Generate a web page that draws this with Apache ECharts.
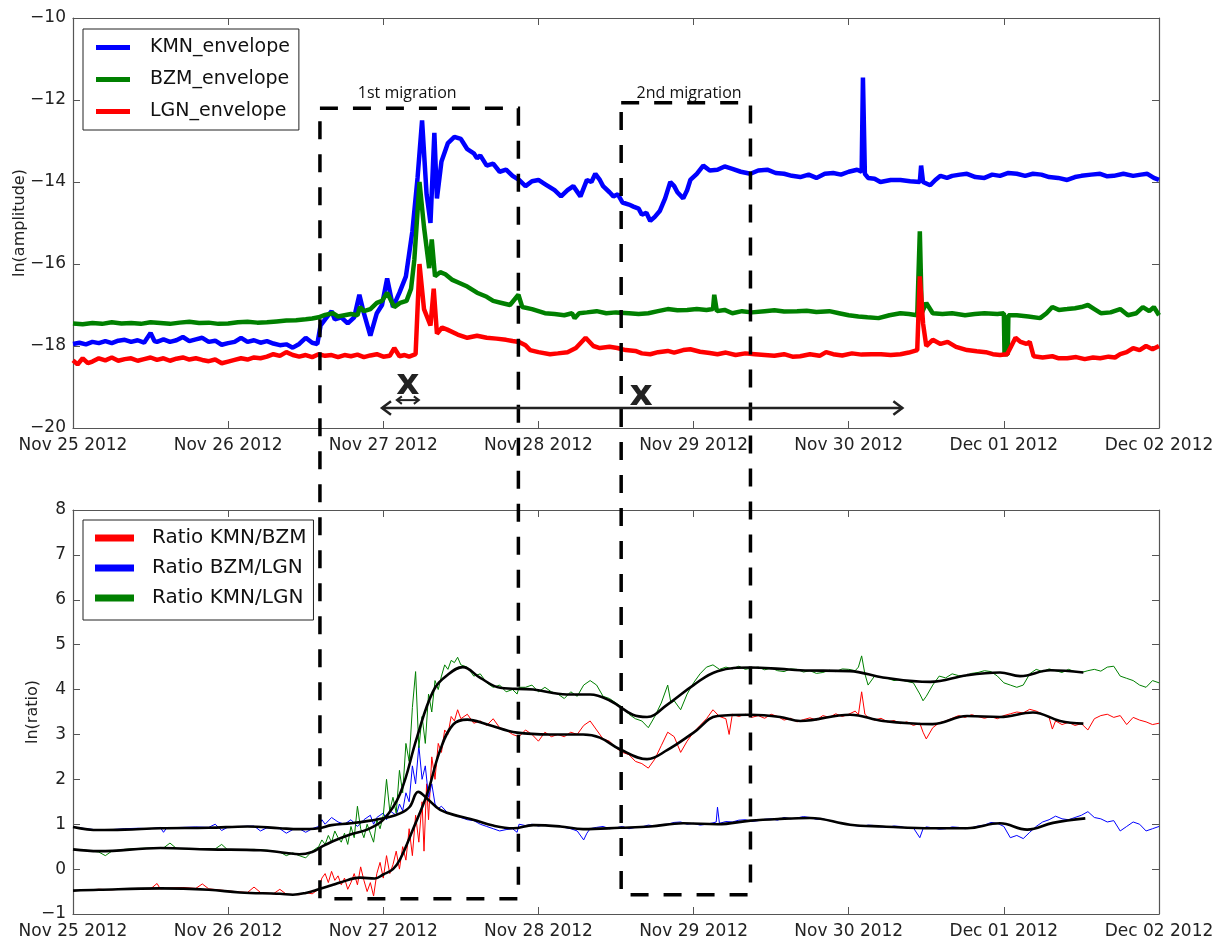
<!DOCTYPE html>
<html><head><meta charset="utf-8">
<script src="https://cdn.jsdelivr.net/npm/echarts@6/dist/echarts.min.js"></script>
<style>html,body{margin:0;padding:0;background:#fff}#c{width:1228px;height:940px}</style>
</head><body><div id="c"></div>
<script>
// x values are hours since Nov 25 2012 00:00
const dayLabels = ['Nov 25 2012','Nov 26 2012','Nov 27 2012','Nov 28 2012','Nov 29 2012','Nov 30 2012','Dec 01 2012','Dec 02 2012'];

const kmnEnvelope = [[0,-17.95],[1,-17.92],[2,-17.96],[3,-17.9],[4,-17.93],[5,-17.88],[6,-17.93],[7,-17.87],[8,-17.85],[9,-17.9],[10,-17.86],[11,-17.92],[12,-17.68],[12.6,-17.88],[13,-17.9],[14,-17.84],[15,-17.9],[16,-17.86],[17,-17.78],[18,-17.88],[19,-17.84],[20,-17.8],[21,-17.9],[22,-17.87],[23,-17.97],[24,-17.93],[25,-17.9],[26,-17.8],[27,-17.9],[28,-17.86],[29,-17.92],[30,-17.88],[31,-17.94],[32,-17.98],[33,-17.96],[34,-18.04],[35,-17.95],[36,-17.8],[37,-17.92],[37.8,-17.95],[38.3,-17.5],[39,-17.35],[40,-17.15],[40.5,-17.35],[41.5,-17.3],[42.5,-17.45],[43.5,-17.3],[44.3,-16.75],[45,-17.2],[46,-17.75],[47,-17.2],[47.8,-17.0],[48.6,-16.35],[49.5,-17.05],[50.5,-16.7],[51.5,-16.3],[52.5,-15.2],[53.3,-13.9],[54,-12.5],[54.7,-14.3],[55.3,-15.0],[55.9,-12.8],[56.3,-14.4],[57,-13.5],[58,-13.05],[59,-12.9],[60,-12.95],[61,-13.2],[62,-13.3],[62.5,-13.42],[63,-13.35],[64,-13.6],[65,-13.55],[66,-13.75],[67,-13.7],[68,-13.85],[69,-13.95],[70,-14.1],[71,-13.98],[72,-13.95],[73,-14.05],[73.5,-14.1],[74.5,-14.2],[75.5,-14.35],[76.5,-14.2],[77.4,-14.1],[78.5,-14.35],[79.5,-13.95],[80.2,-14.0],[80.8,-13.8],[81.5,-13.95],[82,-14.1],[83,-14.25],[83.6,-14.35],[84.3,-14.3],[85,-14.5],[86,-14.55],[86.7,-14.6],[87.5,-14.65],[88,-14.8],[88.7,-14.75],[89.3,-14.95],[90,-14.85],[90.8,-14.7],[91.6,-14.4],[92.4,-14.0],[93,-14.1],[93.5,-14.25],[94.4,-14.4],[95,-14.2],[95.5,-13.95],[96.5,-13.8],[97.5,-13.6],[98.5,-13.72],[99.7,-13.7],[100.8,-13.62],[102,-13.68],[103.3,-13.75],[104.8,-13.8],[106,-13.72],[107.4,-13.7],[108.7,-13.78],[110,-13.8],[111.2,-13.85],[112.5,-13.88],[113.8,-13.82],[115,-13.9],[116.3,-13.8],[117.6,-13.78],[118.8,-13.82],[120,-13.75],[121.3,-13.7],[122,-13.75],[122.2,-11.45],[122.5,-13.8],[123,-13.9],[124,-13.92],[124.9,-14.0],[126.5,-13.95],[128,-13.95],[129.5,-13.98],[131,-14.0],[131.2,-13.6],[131.5,-14.0],[132.6,-14.08],[133.4,-13.95],[134.2,-13.85],[135.2,-13.9],[136,-13.85],[137.2,-13.82],[138.3,-13.8],[139.6,-13.88],[141,-13.9],[142.2,-13.82],[143.4,-13.85],[144.7,-13.78],[146,-13.8],[147.3,-13.85],[148.5,-13.8],[149.8,-13.82],[151,-13.88],[152.4,-13.9],[153.8,-13.95],[155,-13.88],[156,-13.85],[157.5,-13.82],[158.9,-13.8],[160,-13.86],[161,-13.85],[162.5,-13.8],[164,-13.85],[165.2,-13.82],[166.2,-13.8],[167.2,-13.9],[168,-13.95]];

const bzmEnvelope = [[0,-17.45],[1.5,-17.47],[3,-17.44],[4.5,-17.46],[6,-17.42],[7.5,-17.45],[9,-17.44],[10.5,-17.46],[12,-17.42],[13.5,-17.44],[15,-17.46],[16.5,-17.43],[18,-17.41],[19.5,-17.44],[21,-17.43],[22.5,-17.46],[24,-17.45],[25.5,-17.42],[27,-17.41],[28.5,-17.43],[30,-17.42],[31.5,-17.4],[33,-17.38],[34.5,-17.37],[36,-17.35],[37,-17.33],[38,-17.3],[39,-17.24],[40.2,-17.2],[41,-17.28],[42,-17.25],[43,-17.22],[44,-17.25],[44.4,-17.05],[45,-17.15],[46,-17.1],[47,-16.95],[47.8,-16.9],[48.6,-16.7],[49.7,-17.05],[50.6,-16.95],[51.6,-16.9],[52.3,-16.6],[52.8,-15.9],[53.6,-14.0],[54.3,-15.1],[55.1,-16.1],[55.5,-15.4],[56,-16.3],[56.8,-16.2],[57.6,-16.25],[58.6,-16.38],[59.6,-16.45],[61,-16.55],[62.5,-16.7],[64,-16.8],[65,-16.9],[66.3,-16.95],[67.6,-17.0],[68.9,-16.75],[69.5,-17.05],[71,-17.1],[73,-17.2],[74.5,-17.22],[76,-17.25],[77.2,-17.2],[77.6,-17.32],[78.3,-17.2],[79.5,-17.18],[81,-17.15],[82.5,-17.2],[84,-17.18],[86,-17.2],[87.5,-17.22],[89,-17.2],[90.5,-17.15],[92,-17.1],[93.5,-17.13],[95,-17.12],[96.5,-17.1],[98,-17.12],[99,-17.1],[99.2,-16.75],[99.6,-17.15],[100.8,-17.12],[102,-17.2],[103.5,-17.15],[105,-17.18],[107,-17.15],[108.5,-17.13],[110,-17.16],[112,-17.15],[113.5,-17.14],[115,-17.17],[117,-17.15],[118.5,-17.2],[120,-17.25],[121.5,-17.28],[122.9,-17.3],[124.6,-17.32],[126.3,-17.25],[128,-17.2],[129.3,-17.22],[130.6,-17.25],[131.0,-15.2],[131.3,-17.2],[132,-16.95],[133,-17.2],[134.5,-17.22],[136,-17.2],[138,-17.25],[139.5,-17.22],[141,-17.2],[143,-17.22],[144,-17.2],[144.1,-18.2],[144.6,-18.2],[144.7,-17.25],[146,-17.25],[147.8,-17.28],[149.6,-17.32],[150.6,-17.2],[151.5,-17.05],[152.5,-17.12],[153.8,-17.1],[155,-17.08],[156,-17.05],[157,-17.0],[158,-17.1],[159,-17.2],[160.5,-17.18],[162,-17.1],[163.2,-17.25],[164.5,-17.2],[165.5,-17.05],[166.5,-17.15],[167.2,-17.05],[168,-17.25]];

const lgnEnvelope = [[0,-18.35],[0.7,-18.45],[1.5,-18.3],[2.3,-18.42],[3,-18.38],[4,-18.3],[5,-18.35],[6,-18.28],[7,-18.36],[8,-18.32],[9,-18.3],[10,-18.36],[11,-18.32],[12,-18.28],[13,-18.34],[14,-18.3],[15,-18.36],[16,-18.31],[17,-18.28],[18,-18.33],[19,-18.3],[20,-18.34],[21,-18.37],[22,-18.33],[23,-18.42],[24,-18.38],[25,-18.34],[26,-18.3],[27,-18.33],[28,-18.28],[29,-18.3],[30,-18.26],[31,-18.2],[32,-18.24],[33,-18.15],[34,-18.22],[35,-18.26],[36,-18.22],[37,-18.27],[38,-18.2],[39,-18.24],[40,-18.22],[41,-18.27],[42,-18.22],[43,-18.25],[44,-18.21],[45,-18.27],[46,-18.23],[47,-18.2],[48,-18.26],[49,-18.24],[49.7,-18.05],[50.5,-18.25],[51.3,-18.22],[52,-18.26],[53,-18.2],[53.6,-16.0],[54.3,-17.1],[55.3,-17.5],[55.8,-16.6],[56.3,-17.7],[57.1,-17.55],[57.9,-17.6],[59.5,-17.72],[61,-17.8],[62.5,-17.75],[64,-17.8],[65.5,-17.82],[67,-17.85],[68,-17.88],[69,-17.9],[70,-17.98],[70.7,-18.1],[72,-18.15],[73.8,-18.2],[75,-18.18],[76.5,-18.15],[77.8,-18.05],[79.3,-17.8],[80.5,-18.0],[81.5,-18.05],[83,-18.02],[84.2,-18.05],[85.5,-18.1],[87,-18.12],[88,-18.18],[89.3,-18.2],[90.5,-18.15],[92,-18.12],[93,-18.16],[94.4,-18.1],[95.5,-18.08],[97,-18.14],[98.5,-18.17],[99.7,-18.2],[101,-18.16],[102.5,-18.22],[104,-18.18],[105.5,-18.2],[107,-18.22],[108.5,-18.24],[110,-18.2],[111.3,-18.26],[112.5,-18.25],[114,-18.2],[115.5,-18.24],[116.5,-18.15],[117.6,-18.2],[119,-18.23],[120.5,-18.18],[122,-18.21],[123.5,-18.2],[125,-18.2],[126.5,-18.22],[128,-18.2],[129.3,-18.16],[130.6,-18.1],[131.0,-16.3],[131.5,-17.45],[132,-18.0],[133,-17.85],[134.2,-17.95],[135.3,-17.9],[136.6,-18.02],[138.3,-18.1],[139.8,-18.13],[141.2,-18.15],[142.3,-18.2],[143.4,-18.22],[144.5,-18.2],[145,-18.05],[145.8,-17.8],[146.6,-17.9],[147.5,-17.95],[148,-17.9],[148.6,-18.25],[150,-18.28],[151.5,-18.25],[152.5,-18.3],[153.8,-18.3],[155.2,-18.27],[156.5,-18.32],[157.8,-18.28],[158.9,-18.3],[160.2,-18.26],[161.2,-18.28],[162,-18.2],[163,-18.15],[164,-18.05],[165,-18.1],[166,-18.0],[167,-18.08],[168,-18.0]];

const ratioKmnBzm = [[0,-0.48],[2,-0.47],[4,-0.45],[6,-0.46],[8,-0.44],[10,-0.43],[12,-0.44],[13,-0.32],[13.5,-0.44],[15,-0.42],[17,-0.41],[19,-0.43],[20,-0.33],[21,-0.44],[23,-0.47],[25,-0.5],[27,-0.52],[28,-0.4],[29,-0.52],[31,-0.55],[32,-0.45],[33,-0.56],[35,-0.57],[36,-0.52],[37,-0.55],[38,-0.45],[38.5,-0.2],[39,-0.1],[39.5,-0.3],[40,-0.05],[40.5,-0.25],[41,-0.15],[41.5,-0.35],[42,-0.2],[42.5,-0.45],[43,-0.3],[43.5,-0.1],[44,-0.35],[44.5,0.05],[45,-0.25],[45.5,-0.5],[46,-0.3],[46.5,-0.6],[47,-0.1],[47.5,0.15],[48,-0.2],[48.5,0.3],[49,-0.1],[49.5,0.1],[50,0.4],[50.5,0.0],[51,0.5],[51.5,0.2],[52,0.9],[52.5,0.3],[53,1.2],[53.5,0.6],[54,1.5],[54.3,0.4],[54.7,1.9],[55,1.1],[55.5,2.5],[56,2.0],[56.5,2.8],[57,2.6],[57.5,3.1],[58,3.0],[58.5,3.4],[59,3.3],[59.5,3.55],[60,3.35],[61,3.45],[62,3.25],[63,3.3],[64,3.2],[65,3.35],[66,3.15],[67,3.1],[68,3.0],[69,2.95],[70,3.1],[71,3.0],[72,2.85],[73,3.05],[74,2.95],[75,3.0],[76,2.95],[77,3.05],[78,3.0],[79,3.2],[80,3.3],[81,3.1],[82,2.9],[83,2.85],[84,2.7],[85,2.6],[86,2.55],[87,2.4],[88,2.35],[89,2.25],[90,2.45],[91,2.75],[92,3.05],[93,2.95],[94,2.6],[95,2.85],[96,3.05],[97,3.2],[98,3.35],[99,3.55],[100,3.4],[101,3.35],[101.5,3.0],[102,3.45],[103,3.4],[104,3.45],[105,3.38],[106,3.42],[107,3.36],[108,3.45],[109,3.4],[110,3.32],[111,3.36],[112,3.28],[113,3.33],[114,3.37],[115,3.32],[116,3.42],[117,3.38],[118,3.46],[119,3.4],[120,3.45],[121,3.52],[121.5,3.44],[122,3.95],[122.5,3.45],[123,3.38],[124,3.32],[125,3.36],[126,3.28],[127,3.31],[128,3.24],[129,3.28],[130,3.2],[131,3.25],[131.5,3.05],[132,2.9],[133,3.15],[134,3.26],[135,3.3],[136,3.36],[137,3.42],[138,3.38],[139,3.44],[140,3.4],[141,3.36],[142,3.4],[143,3.35],[144,3.42],[145,3.46],[146,3.5],[147,3.48],[148,3.56],[149,3.52],[150,3.45],[151,3.38],[151.5,3.12],[152,3.3],[153,3.22],[154,3.27],[155,3.2],[156,3.24],[157,3.1],[158,3.35],[159,3.42],[160,3.45],[161,3.38],[162,3.42],[163,3.22],[164,3.38],[165,3.32],[166,3.28],[167,3.22],[168,3.25]];

const ratioBzmLgn = [[0,0.94],[2,0.9],[4,0.87],[6,0.88],[8,0.9],[10,0.91],[12,0.9],[13.5,0.93],[14,0.82],[14.5,0.92],[17,0.93],[19,0.94],[21,0.93],[22,1.0],[23,0.86],[24,0.94],[26,0.95],[28,0.96],[29,0.85],[30,0.92],[32,0.9],[33,0.8],[34,0.88],[35,0.9],[36,0.82],[37,0.9],[38,0.95],[38.5,1.1],[39,1.0],[40,1.15],[41,1.05],[42,1.0],[43,1.1],[44,0.95],[45,1.1],[46,1.2],[46.5,1.0],[47,1.15],[48,1.25],[48.5,1.1],[49,1.3],[50,1.2],[50.5,1.45],[51,1.3],[51.5,1.7],[52,1.5],[52.5,2.3],[53,1.9],[53.5,2.75],[54,2.0],[54.5,2.3],[55,1.6],[55.5,1.9],[56,1.45],[56.5,1.35],[57,1.4],[58,1.25],[59,1.2],[60,1.15],[61,1.1],[62,1.08],[63,1.0],[64,0.95],[65,0.9],[66,0.85],[67,0.88],[68,0.9],[68.7,0.82],[69,1.0],[70,0.97],[71,1.0],[72,0.96],[73,0.99],[74,0.95],[75,0.97],[76,0.93],[77,0.9],[78,0.85],[79,0.65],[79.5,0.8],[80,0.9],[81,0.93],[82,0.95],[83,0.9],[84,0.92],[85,0.95],[86,0.9],[87,0.93],[88,0.94],[89,0.98],[90,0.96],[91,0.99],[92,1.0],[93,1.04],[94,1.05],[95,1.0],[96,1.02],[97,0.98],[98,1.0],[99,1.03],[99.5,1.05],[99.7,1.38],[100,1.02],[101,1.06],[102,1.05],[103,1.09],[104,1.1],[105,1.06],[106,1.08],[107,1.11],[108,1.12],[109,1.09],[110,1.15],[111,1.12],[112,1.14],[113,1.17],[114,1.15],[115,1.11],[116,1.12],[117,1.08],[118,1.05],[119,1.02],[120,1.0],[121,0.97],[122,0.95],[123,0.98],[124,0.97],[125,0.94],[126,0.93],[127,0.96],[128,0.95],[129,0.91],[130,0.92],[131,0.7],[131.5,0.9],[132,0.94],[133,0.92],[134,0.89],[135,0.9],[136,0.94],[137,0.93],[138,0.9],[139,0.92],[140,0.96],[141,0.98],[142,1.04],[143,1.02],[144,0.95],[145,0.7],[146,0.75],[147,0.68],[148,0.82],[149,0.95],[150,1.05],[151,1.1],[152,1.18],[153,1.12],[154,1.1],[155,1.15],[156,1.2],[157,1.28],[158,1.15],[159,1.12],[160,1.05],[161,1.08],[162,0.85],[163,0.95],[164,1.05],[165,1.0],[166,0.85],[167,0.9],[168,0.95]];

const ratioKmnLgn = [[0,0.44],[2,0.42],[4,0.38],[5,0.3],[6,0.4],[8,0.44],[10,0.46],[12,0.47],[14,0.47],[15,0.58],[16,0.46],[18,0.45],[20,0.44],[22,0.45],[23,0.55],[24,0.42],[26,0.43],[28,0.44],[30,0.42],[32,0.38],[33,0.3],[34,0.36],[35,0.3],[36,0.25],[37,0.4],[38,0.5],[38.5,0.65],[39,0.55],[39.5,0.75],[40,0.6],[40.5,0.85],[41,0.7],[41.5,0.6],[42,0.8],[42.5,0.55],[43,0.95],[43.5,0.7],[44,1.4],[44.5,0.9],[45,0.7],[45.5,1.0],[46,0.8],[46.5,0.6],[47,1.1],[47.5,0.9],[48,1.2],[48.5,2.0],[49,1.3],[49.5,1.6],[50,1.25],[50.5,2.2],[51,1.7],[51.5,2.8],[52,2.4],[52.5,3.6],[53,4.4],[53.5,2.7],[54,3.4],[54.5,2.8],[55,3.9],[55.5,3.5],[56,4.2],[56.5,4.0],[57,4.3],[57.5,4.55],[58,4.45],[58.5,4.65],[59,4.6],[59.5,4.72],[60,4.55],[61,4.5],[62,4.3],[63,4.35],[64,4.15],[65,4.05],[66,4.1],[67,3.95],[68,4.0],[68.7,3.9],[69,4.05],[70,4.05],[71,4.1],[72,3.95],[73,4.05],[74,3.95],[75,3.9],[76,3.8],[77,3.95],[78,3.85],[79,4.1],[80,4.2],[81,4.1],[82,3.85],[83,3.8],[84,3.7],[85,3.6],[86,3.45],[87,3.35],[88,3.3],[89,3.15],[90,3.4],[91,3.7],[92,4.1],[92.5,3.7],[93,3.75],[94,3.55],[95,3.9],[96,4.15],[97,4.35],[98,4.5],[99,4.55],[100,4.45],[101,4.5],[102,4.46],[103,4.52],[104,4.45],[105,4.48],[106,4.5],[107,4.44],[108,4.48],[109,4.42],[110,4.4],[111,4.46],[112,4.45],[113,4.39],[114,4.42],[115,4.36],[116,4.38],[117,4.43],[118,4.4],[119,4.46],[120,4.45],[121,4.42],[121.5,4.5],[122,4.75],[122.5,4.35],[123,4.1],[124,4.3],[125,4.27],[126,4.25],[127,4.2],[128,4.22],[129,4.18],[130,4.15],[131,3.9],[131.5,3.75],[132,3.85],[133,4.1],[134,4.3],[135,4.26],[136,4.35],[137,4.31],[138,4.3],[139,4.36],[140,4.38],[141,4.42],[142,4.4],[143,4.3],[144,4.15],[145,4.1],[146,4.05],[147,4.1],[148,4.35],[149,4.45],[150,4.4],[151,4.46],[152,4.42],[153,4.38],[154,4.45],[155,4.4],[156,4.38],[157,4.42],[158,4.45],[159,4.41],[160,4.5],[161,4.52],[162,4.3],[163,4.25],[164,4.2],[165,4.1],[166,4.05],[167,4.2],[168,4.15]];

const smoothKmnBzm = [[0,-0.48],[4,-0.46],[13.5,-0.43],[21,-0.46],[25.8,-0.52],[32,-0.55],[34,-0.57],[36,-0.53],[38,-0.45],[40,-0.36],[41.3,-0.3],[44.4,-0.19],[46.7,-0.21],[48,-0.12],[49.5,0.0],[50.6,0.22],[52.6,0.89],[54.8,1.68],[56.8,2.65],[58.8,3.22],[61,3.33],[64.1,3.22],[68.7,3.04],[73.8,3.0],[78.9,3.0],[81.5,2.93],[84.6,2.67],[88.8,2.45],[91.9,2.65],[96,3.04],[99.7,3.41],[104.8,3.44],[109.4,3.39],[112.5,3.3],[120.2,3.44],[125.3,3.3],[133,3.23],[138.3,3.41],[143.4,3.39],[148.5,3.49],[152.7,3.3],[156.3,3.24]];

const smoothBzmLgn = [[0,0.94],[4,0.87],[8,0.88],[13.5,0.91],[21,0.92],[27,0.95],[32,0.91],[35,0.89],[38,0.91],[40,0.98],[43,1.02],[46,1.08],[48.6,1.15],[50.6,1.24],[52.1,1.39],[53.4,1.72],[54.8,1.57],[56.8,1.32],[59.9,1.17],[61.9,1.1],[65,0.97],[68.1,0.91],[71.2,0.98],[75.4,0.95],[78.9,0.89],[84.6,0.92],[89.3,0.95],[94.4,1.02],[99.7,1.0],[104.8,1.08],[109.4,1.12],[114,1.14],[120.2,0.99],[125.3,0.95],[133,0.91],[138.3,0.91],[143.4,1.02],[147.6,0.88],[151.6,1.03],[156.6,1.13]];

const smoothKmnLgn = [[0,0.44],[4,0.4],[13.5,0.47],[21,0.44],[29,0.42],[33,0.36],[35,0.33],[37,0.38],[38.5,0.5],[40.2,0.62],[42.9,0.77],[45.5,0.88],[48,1.1],[50.6,1.68],[53.2,2.93],[55.7,3.96],[57.9,4.32],[60.3,4.5],[63,4.26],[66.1,4.04],[71.2,4.0],[76.4,3.89],[80,3.89],[83.1,3.75],[86.6,3.44],[88.8,3.39],[91.9,3.66],[96,4.1],[99.7,4.41],[104.8,4.49],[109.4,4.46],[112.5,4.43],[120.2,4.41],[125.3,4.27],[132.6,4.17],[138.3,4.32],[143.4,4.38],[146.5,4.3],[151.2,4.43],[156.3,4.38]];

// annotation anchors in data coordinates (hours, top-panel value / bottom-panel value)
const migrationBoxes = [
  {name:'1st migration', x0:38.2, x1:68.9, top:-12.2, bottom:-0.66, labelX:51.7, labelY:-11.85},
  {name:'2nd migration', x0:84.8, x1:104.8, top:-12.07, bottom:-0.57, labelX:95.3, labelY:-11.85}
];
const crossMarks = [[51.8,-18.95],[87.9,-19.22]];
const smallArrow = [[50.1,-19.32],[53.5,-19.32]];
const longArrow = [[47.8,-19.51],[128.3,-19.51]];

const chart = echarts.init(document.getElementById('c'), null, {renderer:'canvas'});
const AX = '#555';
const FONT = '"DejaVu Sans", sans-serif';
const minus = v => String(v).replace('-', '\u2212');

function xAx(grid, pos, labels) {
  return {gridIndex:grid, type:'value', min:0, max:168, interval:24, position:pos,
    axisLine:{show:true, onZero:false, lineStyle:{color:AX, width:1.2}},
    axisTick:{show:true, inside:true, length:7, lineStyle:{color:AX}},
    axisLabel:{show:labels, formatter:v=>dayLabels[Math.round(v/24)], color:'#222', fontSize:17, fontFamily:FONT, margin:9, showMinLabel:true, showMaxLabel:true},
    splitLine:{show:false}};
}
function yAx(grid, pos, labels, min, max, interval, name, gap) {
  return {gridIndex:grid, type:'value', min, max, interval, position:pos,
    name: labels ? name : '', nameLocation:'middle', nameGap:gap, nameRotate:90, nameMoveOverlap:false,
    nameTextStyle:{fontSize:16, fontFamily:FONT, color:'#222'},
    axisLine:{show:true, onZero:false, lineStyle:{color:AX, width:1.2}},
    axisTick:{show:true, inside:true, length:7, lineStyle:{color:AX}},
    axisLabel:{show:labels, formatter:minus, color:'#222', fontSize:17, fontFamily:FONT, margin:7},
    splitLine:{show:false}};
}
function line(name, data, color, width, xi, yi, z, smooth) {
  return {name, type:'line', data, xAxisIndex:xi, yAxisIndex:yi, showSymbol:false, symbol:'none',
    smooth: smooth || false,
    lineStyle:{color, width}, itemStyle:{color}, z:z||2, silent:true, animation:false};
}

const option = {
  animation:false,
  backgroundColor:'#fff',
  grid:[{left:73, top:18, width:1086, height:410}, {left:73, top:510, width:1086, height:409}],
  xAxis:[xAx(0,'bottom',true), xAx(1,'bottom',true), xAx(0,'top',false), xAx(1,'top',false)],
  yAxis:[yAx(0,'left',true,-20,-10,2,'ln(amplitude)',45), yAx(1,'left',true,-1,8,1,'ln(ratio)',32),
         yAx(0,'right',false,-20,-10,2,'',0), yAx(1,'right',false,-1,8,1,'',0)],
  legend:[
    {data:['KMN_envelope','BZM_envelope','LGN_envelope'], orient:'vertical', left:83, top:29,
     padding:[9,9,9,13], itemGap:13, itemWidth:34, itemHeight:5, icon:'rect',
     backgroundColor:'#fff', borderColor:'#222', borderWidth:1, borderRadius:0, selectedMode:false,
     textStyle:{fontSize:19, fontFamily:FONT, color:'#111', padding:[0,0,0,15]}},
    {data:['Ratio KMN/BZM','Ratio BZM/LGN','Ratio KMN/LGN'], orient:'vertical', left:83, top:520,
     padding:[8,7,12,12], itemGap:10, itemWidth:39, itemHeight:7, icon:'rect',
     backgroundColor:'#fff', borderColor:'#222', borderWidth:1, borderRadius:0, selectedMode:false,
     textStyle:{fontSize:20, fontFamily:FONT, color:'#111', padding:[0,0,0,13]}}
  ],
  series:[
    line('KMN_envelope', kmnEnvelope, '#0000ff', 4.5, 0, 0),
    line('BZM_envelope', bzmEnvelope, '#008000', 4.5, 0, 0),
    line('LGN_envelope', lgnEnvelope, '#ff0000', 4.5, 0, 0),
    line('Ratio KMN/BZM', ratioKmnBzm, '#ff0000', 1, 1, 1),
    line('Ratio BZM/LGN', ratioBzmLgn, '#0000ff', 1, 1, 1),
    line('Ratio KMN/LGN', ratioKmnLgn, '#008000', 1, 1, 1),
    line('smooth KMN/BZM', smoothKmnBzm, '#000', 2.6, 1, 1, 3, 0.4),
    line('smooth BZM/LGN', smoothBzmLgn, '#000', 2.6, 1, 1, 3, 0.4),
    line('smooth KMN/LGN', smoothKmnLgn, '#000', 2.6, 1, 1, 3, 0.4)
  ]
};
chart.setOption(option);

const topPx = (h, v) => chart.convertToPixel({seriesIndex:0}, [h, v]);
const botPx = (h, v) => chart.convertToPixel({seriesIndex:3}, [h, v]);
const graphics = [];
migrationBoxes.forEach(b => {
  const tl = topPx(b.x0, b.top), tr = topPx(b.x1, b.top);
  const br = botPx(b.x1, b.bottom), bl = botPx(b.x0, b.bottom);
  graphics.push({type:'polygon', z:50, silent:true,
    shape:{points:[[tl[0],tl[1]],[tr[0],tr[1]],[br[0],br[1]],[bl[0],bl[1]]]},
    style:{fill:'none', stroke:'#000', lineWidth:3.5, lineDash:[18,15]}});
  const lp = topPx(b.labelX, b.labelY);
  graphics.push({type:'text', z:51, silent:true, x:lp[0], y:lp[1],
    style:{text:b.name, font:'16px "Open Sans", sans-serif', fill:'#111', align:'center', verticalAlign:'middle'}});
});
crossMarks.forEach(c => {
  const p = topPx(c[0], c[1]);
  graphics.push({type:'text', z:51, silent:true, x:p[0], y:p[1],
    style:{text:'x', font:'bold 36px "DejaVu Sans", sans-serif', fill:'#222', align:'center', verticalAlign:'middle'}});
});
function arrow(a, b, head, width) {
  const p1 = topPx(a[0], a[1]), p2 = topPx(b[0], b[1]);
  graphics.push({type:'line', z:51, silent:true, shape:{x1:p1[0], y1:p1[1], x2:p2[0], y2:p2[1]}, style:{stroke:'#222', lineWidth:width}});
  graphics.push({type:'polyline', z:51, silent:true, shape:{points:[[p1[0]+head, p1[1]-head*0.75],[p1[0], p1[1]],[p1[0]+head, p1[1]+head*0.75]]}, style:{stroke:'#222', lineWidth:width, fill:'none'}});
  graphics.push({type:'polyline', z:51, silent:true, shape:{points:[[p2[0]-head, p2[1]-head*0.75],[p2[0], p2[1]],[p2[0]-head, p2[1]+head*0.75]]}, style:{stroke:'#222', lineWidth:width, fill:'none'}});
}
arrow(smallArrow[0], smallArrow[1], 5, 2);
arrow(longArrow[0], longArrow[1], 9, 2.5);
chart.setOption({graphic:graphics});
</script>
</body></html>
